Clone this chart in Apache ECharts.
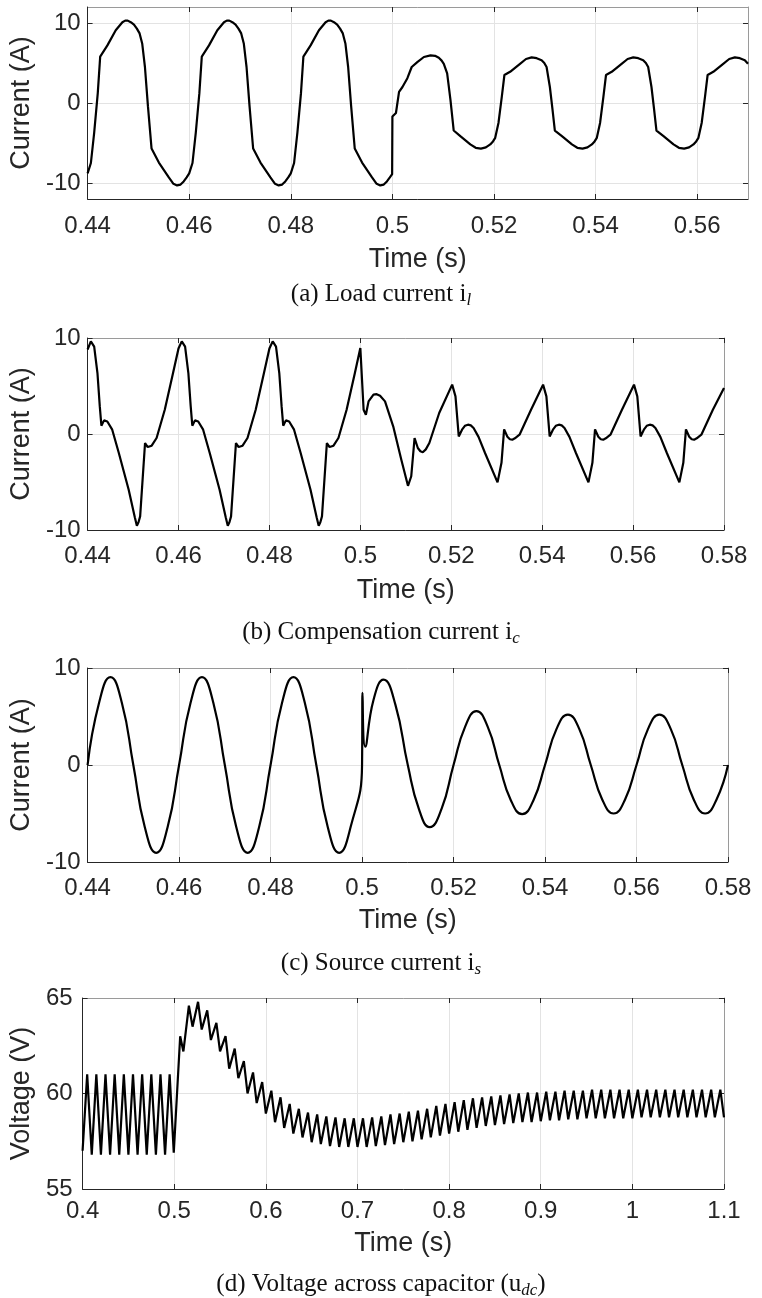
<!DOCTYPE html>
<html>
<head>
<meta charset="utf-8">
<script src="https://cdn.jsdelivr.net/npm/echarts@6/dist/echarts.min.js"></script>
<style>
html,body{margin:0;padding:0;background:#fff;}
#chart{width:762px;height:1298px;}
</style>
</head>
<body>
<div id="chart"></div>
<script>
// (a) load current i_l, [time s, current A]
var loadCurrent = [
  [0.44000,-8.8],[0.44065,-7.5],[0.44130,-3.7],[0.44200,1.2],[0.44248,5.8],[0.44390,7.2],[0.44554,9.1],[0.44685,10.1],[0.44740,10.3],[0.44790,10.3],[0.44850,10.1],[0.44913,9.8],[0.44970,9.3],[0.45024,8.7],[0.45076,7.4],[0.45129,4.5],[0.45188,-0.4],[0.45259,-5.7],[0.45403,-7.45],[0.45599,-9.3],[0.45690,-10.1],[0.45761,-10.3],[0.45830,-10.2],[0.45892,-9.8],[0.45950,-9.3],
  [0.46000,-8.8],[0.46065,-7.5],[0.46130,-3.7],[0.46200,1.2],[0.46248,5.8],[0.46390,7.2],[0.46554,9.1],[0.46685,10.1],[0.46740,10.3],[0.46790,10.3],[0.46850,10.1],[0.46913,9.8],[0.46970,9.3],[0.47024,8.7],[0.47076,7.4],[0.47129,4.5],[0.47188,-0.4],[0.47259,-5.7],[0.47403,-7.45],[0.47599,-9.3],[0.47690,-10.1],[0.47761,-10.3],[0.47830,-10.2],[0.47892,-9.8],[0.47950,-9.3],
  [0.48000,-8.8],[0.48065,-7.5],[0.48130,-3.7],[0.48200,1.2],[0.48248,5.8],[0.48390,7.2],[0.48554,9.1],[0.48685,10.1],[0.48740,10.3],[0.48790,10.3],[0.48850,10.1],[0.48913,9.8],[0.48970,9.3],[0.49024,8.7],[0.49076,7.4],[0.49129,4.5],[0.49188,-0.4],[0.49259,-5.7],[0.49403,-7.45],[0.49599,-9.3],[0.49690,-10.1],[0.49761,-10.3],[0.49830,-10.2],[0.49892,-9.8],[0.49950,-9.3],[0.49995,-8.9],
  [0.50000,-1.7],[0.50070,-1.25],[0.50131,1.4],[0.50198,2.0],[0.50295,3.1],[0.50380,4.5],[0.50490,5.1],[0.50620,5.75],[0.50751,5.95],[0.50840,5.9],[0.50914,5.65],[0.50970,5.3],[0.51012,4.9],[0.51078,3.7],[0.51143,0.4],[0.51207,-3.44],[0.51337,-4.15],[0.51534,-5.18],[0.51640,-5.6],[0.51743,-5.7],[0.51840,-5.55],[0.51926,-5.18],[0.51980,-4.8],[0.52024,-4.35],[0.52088,-2.5],[0.52154,0.8],[0.52205,3.5],
  [0.52317,3.9],[0.52512,4.9],[0.52630,5.5],[0.52741,5.7],[0.52840,5.6],[0.52937,5.35],[0.52990,5.0],[0.53035,4.5],[0.53100,2.0],[0.53152,-0.84],[0.53198,-3.44],[0.53337,-4.15],[0.53534,-5.18],[0.53640,-5.6],[0.53743,-5.7],[0.53840,-5.55],[0.53926,-5.18],[0.53980,-4.8],[0.54024,-4.35],[0.54088,-2.5],[0.54154,0.8],[0.54205,3.5],
  [0.54317,3.9],[0.54512,4.9],[0.54630,5.5],[0.54741,5.7],[0.54840,5.6],[0.54937,5.35],[0.54990,5.0],[0.55035,4.5],[0.55100,2.0],[0.55152,-0.84],[0.55198,-3.44],[0.55337,-4.15],[0.55534,-5.18],[0.55640,-5.6],[0.55743,-5.7],[0.55840,-5.55],[0.55926,-5.18],[0.55980,-4.8],[0.56024,-4.35],[0.56088,-2.5],[0.56154,0.8],[0.56205,3.5],
  [0.56317,3.9],[0.56512,4.9],[0.56630,5.5],[0.56741,5.7],[0.56840,5.6],[0.56937,5.35],[0.57000,4.9]
];

// (b) compensation current i_c
var compCurrent = [
  [0.44000,8.8],[0.44072,9.65],[0.44145,9.1],[0.44217,6.35],[0.44268,2.9],[0.44304,0.86],[0.44362,1.42],[0.44434,1.3],[0.44542,0.45],[0.44687,-1.98],[0.44904,-5.8],[0.45040,-8.7],[0.45084,-9.55],[0.45120,-9.2],[0.45156,-8.58],[0.45264,-0.94],[0.45323,-1.36],[0.45410,-1.22],[0.45518,-0.42],[0.45698,2.53],[0.45880,6.35],
  [0.46000,8.9],[0.46072,9.65],[0.46145,9.1],[0.46217,6.35],[0.46268,2.9],[0.46304,0.86],[0.46362,1.42],[0.46434,1.3],[0.46542,0.45],[0.46687,-1.98],[0.46904,-5.8],[0.47040,-8.7],[0.47084,-9.55],[0.47120,-9.2],[0.47156,-8.58],[0.47264,-0.94],[0.47323,-1.36],[0.47410,-1.22],[0.47518,-0.42],[0.47698,2.53],[0.47880,6.35],
  [0.48000,8.9],[0.48072,9.65],[0.48145,9.1],[0.48217,6.35],[0.48268,2.9],[0.48304,0.86],[0.48362,1.42],[0.48434,1.3],[0.48542,0.45],[0.48687,-1.98],[0.48904,-5.8],[0.49040,-8.7],[0.49084,-9.55],[0.49120,-9.2],[0.49156,-8.58],[0.49264,-0.94],[0.49323,-1.36],[0.49410,-1.22],[0.49518,-0.42],[0.49698,2.53],[0.49880,6.35],
  [0.50000,8.96],[0.50072,2.53],[0.50122,2.0],[0.50181,3.4],[0.50289,4.1],[0.50360,4.15],[0.50434,3.99],[0.50543,3.4],[0.50723,0.8],[0.50903,-2.7],[0.51048,-5.4],[0.51120,-4.4],[0.51193,-0.42],[0.51265,-1.46],[0.51320,-1.8],[0.51374,-1.9],[0.51440,-1.6],[0.51518,-0.94],[0.51735,2.19],
  [0.52020,5.14],[0.52093,3.92],[0.52165,-0.25],[0.52237,0.45],[0.52300,0.85],[0.52367,0.97],[0.52430,0.9],[0.52491,0.63],[0.52600,-0.3],[0.52743,-1.98],[0.53018,-5.04],[0.53105,-3.0],[0.53163,0.48],[0.53235,-0.28],[0.53290,-0.55],[0.53343,-0.59],[0.53400,-0.45],[0.53502,-0.07],[0.53755,2.53],
  [0.54020,5.14],[0.54093,3.92],[0.54165,-0.25],[0.54237,0.45],[0.54300,0.85],[0.54367,0.97],[0.54430,0.9],[0.54491,0.63],[0.54600,-0.3],[0.54743,-1.98],[0.55018,-5.04],[0.55105,-3.0],[0.55163,0.48],[0.55235,-0.28],[0.55290,-0.55],[0.55343,-0.59],[0.55400,-0.45],[0.55502,-0.07],[0.55755,2.53],
  [0.56020,5.14],[0.56093,3.92],[0.56165,-0.25],[0.56237,0.45],[0.56300,0.85],[0.56367,0.97],[0.56430,0.9],[0.56491,0.63],[0.56600,-0.3],[0.56743,-1.98],[0.57018,-5.04],[0.57105,-3.0],[0.57163,0.48],[0.57235,-0.28],[0.57290,-0.55],[0.57343,-0.59],[0.57400,-0.45],[0.57502,-0.07],[0.57755,2.53],[0.58000,4.8]
];

// (c) source current i_s
var sourceCurrent = [
  [0.44000,0],[0.44250,6.4],[0.44500,9.05],[0.44750,6.4],[0.45000,0],[0.45250,-6.4],[0.45500,-9.05],[0.45750,-6.4],
  [0.46000,0],[0.46250,6.4],[0.46500,9.05],[0.46750,6.4],[0.47000,0],[0.47250,-6.4],[0.47500,-9.05],[0.47750,-6.4],
  [0.48000,0],[0.48250,6.4],[0.48500,9.05],[0.48750,6.4],[0.49000,0],[0.49250,-6.4],[0.49500,-9.05],[0.49750,-6.4],
  [0.50000,0],[0.50010,7.45],[0.50070,1.9],[0.50250,6.7],[0.50470,8.8],[0.50730,6.2],[0.51000,0],[0.51240,-4.5],[0.51480,-6.4],[0.51740,-4.5],
  [0.52000,0],[0.52250,3.9],[0.52500,5.55],[0.52750,3.9],[0.53000,0],[0.53250,-3.6],[0.53500,-5.07],[0.53750,-3.6],
  [0.54000,0],[0.54250,3.7],[0.54500,5.2],[0.54750,3.7],[0.55000,0],[0.55250,-3.55],[0.55500,-5.0],[0.55750,-3.55],
  [0.56000,0],[0.56250,3.7],[0.56500,5.2],[0.56750,3.7],[0.57000,0],[0.57250,-3.55],[0.57500,-5.0],[0.57750,-3.55],[0.58000,0]
];

// (d) dc-link capacitor voltage u_dc, ripple peaks and troughs
var dcVoltage = [
  [0.400,57.0],[0.405,61.0],[0.410,56.8],[0.415,61.0],[0.420,56.8],[0.425,61.0],[0.430,56.8],[0.435,61.0],[0.440,56.8],[0.445,61.0],
  [0.450,56.8],[0.455,61.0],[0.460,56.8],[0.465,61.0],[0.470,56.8],[0.475,61.0],[0.480,56.8],[0.485,61.0],[0.490,56.8],[0.495,61.0],
  [0.4995,56.9],[0.5065,63.0],[0.510,62.2],[0.516,64.6],[0.520,63.5],[0.526,64.8],[0.530,63.35],[0.536,64.35],[0.540,62.8],[0.546,63.7],
  [0.550,62.2],[0.556,63.0],[0.560,61.3],[0.566,62.35],[0.570,60.8],[0.576,61.7],[0.580,60.0],[0.586,61.1],[0.590,59.5],[0.596,60.6],
  [0.600,58.95],[0.606,60.15],[0.610,58.5],[0.616,59.8],[0.620,58.2],[0.626,59.45],[0.630,57.9],[0.636,59.2],[0.640,57.7],[0.646,59.0],
  [0.650,57.45],[0.656,58.9],[0.660,57.35],[0.666,58.8],[0.670,57.25],[0.676,58.75],[0.680,57.2],[0.686,58.7],[0.690,57.2],[0.696,58.7],
  [0.700,57.2],[0.706,58.7],[0.710,57.2],[0.716,58.75],[0.720,57.25],[0.726,58.8],[0.730,57.3],[0.736,58.9],[0.740,57.35],[0.746,58.95],
  [0.750,57.45],[0.756,59.05],[0.760,57.5],[0.766,59.1],[0.770,57.6],[0.776,59.2],[0.780,57.7],[0.786,59.35],[0.790,57.8],[0.796,59.45],
  [0.800,57.9],[0.806,59.55],[0.810,58.0],[0.816,59.65],[0.820,58.1],[0.826,59.75],[0.830,58.2],[0.836,59.8],[0.840,58.3],[0.846,59.85],
  [0.850,58.35],[0.856,59.9],[0.860,58.4],[0.866,59.95],[0.870,58.45],[0.876,60.0],[0.880,58.5],[0.886,60.05],[0.890,58.5],[0.896,60.05],
  [0.900,58.55],[0.906,60.1],[0.910,58.6],[0.916,60.1],[0.920,58.6],[0.926,60.15],[0.930,58.65],[0.936,60.15],[0.940,58.65],[0.946,60.15],
  [0.950,58.7],[0.956,60.2],[0.960,58.7],[0.966,60.2],[0.970,58.7],[0.976,60.2],[0.980,58.7],[0.986,60.2],[0.990,58.7],[0.996,60.2],
  [1.000,58.7],[1.006,60.2],[1.010,58.75],[1.016,60.2],[1.020,58.75],[1.026,60.2],[1.030,58.75],[1.036,60.2],[1.040,58.75],[1.046,60.2],
  [1.050,58.75],[1.056,60.2],[1.060,58.75],[1.066,60.2],[1.070,58.75],[1.076,60.2],[1.080,58.75],[1.086,60.2],[1.090,58.75],[1.096,60.2],
  [1.100,58.75]
];

// tick labels
var timeTicksShort = [0.44, 0.46, 0.48, 0.5, 0.52, 0.54, 0.56];
var timeTicksLong = [0.44, 0.46, 0.48, 0.5, 0.52, 0.54, 0.56, 0.58];
var timeTicksD = [0.4, 0.5, 0.6, 0.7, 0.8, 0.9, 1, 1.1];
var currentTicks = [-10, 0, 10];
var voltageTicks = [55, 60, 65];

var SANS = "'Liberation Sans', Arial, Helvetica, sans-serif";
var SERIF = "'Liberation Serif', 'Times New Roman', serif";
var AX = '#262626', BOX = '#9a9a9a', GRID = '#e3e3e3';

var panels = [
  {data: loadCurrent, xMin: 0.44, xMax: 0.57, xTicks: timeTicksShort, yMin: -12, yMax: 12, yTicks: currentTicks, yName: 'Current (A)', smooth: false,
   grid: {left: 80, top: 7, width: 668, height: 192}, xLabelMargin: 15, xNameGap: 47, yLabelMargin: 7, yNameGap: 35},
  {data: compCurrent, xMin: 0.44, xMax: 0.58, xTicks: timeTicksLong, yMin: -10, yMax: 10, yTicks: currentTicks, yName: 'Current (A)', smooth: false,
   grid: {left: 80, top: 338, width: 644, height: 192}, xLabelMargin: 14, xNameGap: 47, yLabelMargin: 7, yNameGap: 35},
  {data: sourceCurrent, xMin: 0.44, xMax: 0.58, xTicks: timeTicksLong, yMin: -10, yMax: 10, yTicks: currentTicks, yName: 'Current (A)', smooth: 0.5,
   grid: {left: 78, top: 668, width: 650, height: 194}, xLabelMargin: 14, xNameGap: 45, yLabelMargin: 7, yNameGap: 34},
  {data: dcVoltage, xMin: 0.4, xMax: 1.1, xTicks: timeTicksD, yMin: 55, yMax: 65, yTicks: voltageTicks, yName: 'Voltage (V)', smooth: false,
   grid: {left: 78, top: 998, width: 646, height: 191}, xLabelMargin: 10, xNameGap: 41, yLabelMargin: 10, yNameGap: 30}
];

var captions = [
  {main: '(a) Load current i', sub: 'l', tail: '', top: 279},
  {main: '(b) Compensation current i', sub: 'c', tail: '', top: 617},
  {main: '(c) Source current i', sub: 's', tail: '', top: 948},
  {main: '(d) Voltage across capacitor (u', sub: 'dc', tail: ')', top: 1269}
];

var grids = [], xAxes = [], yAxes = [], series = [], titles = [];

panels.forEach(function (p, i) {
  grids.push(p.grid);
  xAxes.push({
    gridIndex: i, type: 'value', position: 'bottom', min: p.xMin, max: p.xMax,
    axisLine: {show: true, onZero: false, lineStyle: {color: AX, width: 1}},
    axisTick: {show: true, inside: true, length: 5, customValues: p.xTicks, lineStyle: {color: AX}},
    axisLabel: {show: true, customValues: p.xTicks, margin: p.xLabelMargin, fontSize: 24, color: AX, fontFamily: SANS},
    splitLine: {show: true, lineStyle: {color: GRID, width: 1}},
    name: 'Time (s)', nameLocation: 'middle', nameGap: p.xNameGap,
    nameTextStyle: {fontSize: 27, color: AX, fontFamily: SANS}
  });
  xAxes.push({
    gridIndex: i, type: 'value', position: 'top', min: p.xMin, max: p.xMax,
    axisLine: {show: true, onZero: false, lineStyle: {color: BOX, width: 1}},
    axisTick: {show: true, inside: true, length: 5, customValues: p.xTicks, lineStyle: {color: AX}},
    axisLabel: {show: false}, splitLine: {show: false}
  });
  yAxes.push({
    gridIndex: i, type: 'value', position: 'left', min: p.yMin, max: p.yMax,
    axisLine: {show: true, onZero: false, lineStyle: {color: AX, width: 1}},
    axisTick: {show: true, inside: true, length: 5, customValues: p.yTicks, lineStyle: {color: AX}},
    axisLabel: {show: true, customValues: p.yTicks, margin: p.yLabelMargin, fontSize: 24, color: AX, fontFamily: SANS},
    splitLine: {show: true, lineStyle: {color: GRID, width: 1}},
    name: p.yName, nameLocation: 'middle', nameGap: p.yNameGap,
    nameTextStyle: {fontSize: 27, color: AX, fontFamily: SANS}
  });
  yAxes.push({
    gridIndex: i, type: 'value', position: 'right', min: p.yMin, max: p.yMax,
    axisLine: {show: true, onZero: false, lineStyle: {color: BOX, width: 1}},
    axisTick: {show: true, inside: true, length: 5, customValues: p.yTicks, lineStyle: {color: AX}},
    axisLabel: {show: false}, splitLine: {show: false}
  });
  series.push({
    type: 'line', xAxisIndex: 2 * i, yAxisIndex: 2 * i, data: p.data,
    showSymbol: false, symbol: 'none', smooth: p.smooth,
    lineStyle: {color: '#000', width: 2.2}, silent: true
  });
});

captions.forEach(function (c) {
  var txt = '{m|' + c.main + '}{s|' + c.sub + '}' + (c.tail ? '{m|' + c.tail + '}' : '');
  titles.push({
    text: txt, left: 'center', top: c.top, padding: 0,
    textStyle: {
      fontWeight: 'normal',
      rich: {
        m: {fontFamily: SERIF, fontWeight: 'normal', fontSize: 25, color: '#111', lineHeight: 30},
        s: {fontFamily: SERIF, fontWeight: 'normal', fontStyle: 'italic', fontSize: 17, color: '#111', lineHeight: 14, verticalAlign: 'bottom'}
      }
    }
  });
});

var chart = echarts.init(document.getElementById('chart'));
chart.setOption({
  animation: false,
  backgroundColor: '#fff',
  title: titles,
  grid: grids,
  xAxis: xAxes,
  yAxis: yAxes,
  series: series
});
</script>
</body>
</html>
